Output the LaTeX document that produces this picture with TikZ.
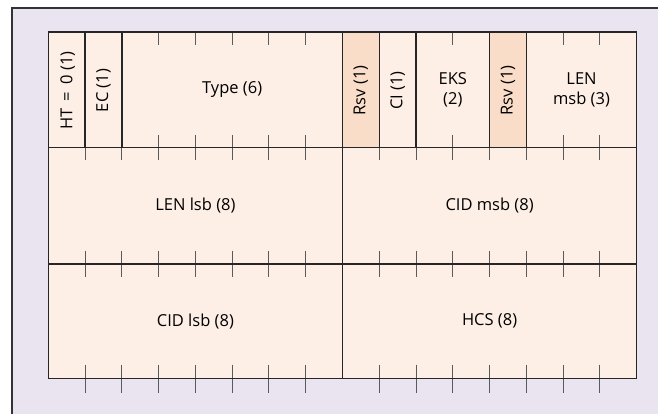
\documentclass[tikz,border=0pt]{standalone}
\usepackage{fontspec}
\setmainfont{Open Sans}
\definecolor{bgl}{HTML}{E9E4F0}
\definecolor{cellc}{HTML}{FDEFE6}
\definecolor{rsvc}{HTML}{F9DDC9}
\definecolor{framec}{HTML}{333333}
\definecolor{tickc}{HTML}{5A5A5A}
\newcommand\bx[1]{48.3+36.775*#1}
\begin{document}
\begin{tikzpicture}[x=1pt,y=-1pt,
  border/.style={draw=black!85,line width=1.3pt},
  tk/.style={draw=tickc,line width=1pt},
  lbl/.style={font=\fontsize{16.5}{20}\selectfont,text=black,align=center,inner sep=0pt},
  vlbl/.style={lbl,rotate=90}]
\useasboundingbox (0,0) rectangle (658,414);
\fill[white] (0,0) rectangle (658,414);
\fill[bgl] (12,8) rectangle (660,416);
\draw[framec,line width=1.2pt] (12,416) -- (12,8) -- (660,8);
% cell fills
\fill[cellc] ({\bx{0}},32) rectangle ({\bx{16}},378.7);
\fill[rsvc] ({\bx{8}},32) rectangle ({\bx{9}},147.5);
\fill[rsvc] ({\bx{12}},32) rectangle ({\bx{13}},147.5);
% ticks
\foreach \b in {3,4,5,6,7,11,14,15}{
  \draw[tk] ({\bx{\b}},32) -- ({\bx{\b}},45.5);
  \draw[tk] ({\bx{\b}},135) -- ({\bx{\b}},147.5);
}
\foreach \b in {1,2,3,4,5,6,7,9,10,11,12,13,14,15}{
  \draw[tk] ({\bx{\b}},147.5) -- ({\bx{\b}},160.5);
  \draw[tk] ({\bx{\b}},250.5) -- ({\bx{\b}},277);
  \draw[tk] ({\bx{\b}},364.5) -- ({\bx{\b}},392.7);
}
% borders
\draw[border] ({\bx{0}},32) rectangle ({\bx{16}},378.7);
\draw[border] ({\bx{0}},147.5) -- ({\bx{16}},147.5);
\draw[border] ({\bx{0}},264) -- ({\bx{16}},264);
\draw[border] ({\bx{8}},32) -- ({\bx{8}},378.7);
\foreach \b in {1,2,9,10,12,13}{
  \draw[border] ({\bx{\b}},32) -- ({\bx{\b}},147.5);
}
% labels
\node[vlbl] (ht) at ({\bx{0.5}+1},90.5) {HT\hspace{3pt} = \hspace{3pt}0 (1)};
\node[vlbl] (ec) at ({\bx{1.5}},90.5) {EC (1)};
\node[lbl] (type) at ({\bx{5}},89.75) {Type (6)};
\node[vlbl] (rsva) at ({\bx{8.5}},90.5) {Rsv (1)};
\node[vlbl] (ci) at ({\bx{9.5}},90.5) {CI (1)};
\node[lbl] (eks) at ({\bx{11}},89.75) {EKS\\(2)};
\node[vlbl] (rsvb) at ({\bx{12.5}},90.5) {Rsv (1)};
\node[lbl] (lenmsb) at ({\bx{14.5}},89.75) {LEN\\msb (3)};
\node[lbl] (lenlsb) at ({\bx{4}},205.75) {LEN lsb (8)};
\node[lbl] (cidmsb) at ({\bx{12}},205.75) {CID msb (8)};
\node[lbl] (cidlsb) at ({\bx{4}},321.3) {CID lsb (8)};
\node[lbl] (hcs) at ({\bx{12}},321.3) {HCS (8)};
\end{tikzpicture}
\end{document}
